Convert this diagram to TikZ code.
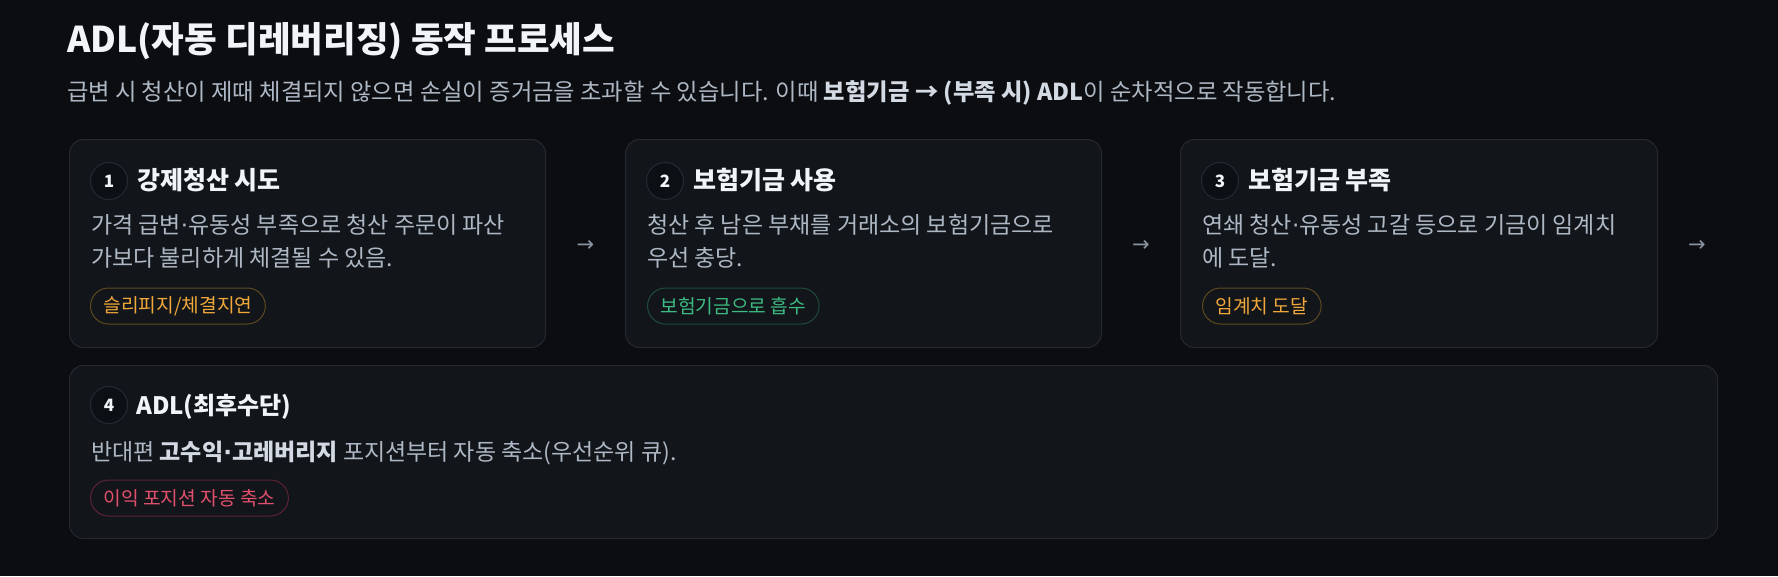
\documentclass[tikz,border=0pt]{standalone}
\usepackage{fontspec}
\setmainfont{Noto Sans CJK KR}
\newfontfamily\arrowfont{DejaVu Sans}
\newcommand{\kdot}{{\arrowfont ·}}
\usetikzlibrary{calc}
\definecolor{bgc}{HTML}{0B0D10}
\definecolor{cardfill}{HTML}{12151A}
\definecolor{cardline}{HTML}{242830}
\definecolor{numfill}{HTML}{0C0F14}
\definecolor{numline}{HTML}{252A33}
\definecolor{titlec}{HTML}{F2F5F8}
\definecolor{bodyc}{HTML}{AEB8C4}
\definecolor{boldc}{HTML}{D3DAE3}
\definecolor{arrowc}{HTML}{8A93A0}
\definecolor{ambert}{HTML}{F0A83A}
\definecolor{amberl}{HTML}{5E4A1E}
\definecolor{greent}{HTML}{3DBB82}
\definecolor{greenl}{HTML}{1F4D3A}
\definecolor{redt}{HTML}{E2506C}
\definecolor{redl}{HTML}{5C2433}
\begin{document}
\begin{tikzpicture}[x=1pt,y=-1pt,
  card/.style={draw=cardline, fill=cardfill, line width=1pt, rounded corners=14pt, anchor=north west, inner sep=0pt},
  num/.style={circle, draw=numline, fill=numfill, line width=1pt, minimum size=37pt, inner sep=0pt, font=\fontsize{17}{17}\selectfont\bfseries, text=titlec},
  ctitle/.style={anchor=base west, inner sep=0pt, font=\fontsize{25}{30}\selectfont\bfseries, text=titlec},
  body/.style={anchor=base west, inner sep=0pt, align=left, font=\fontsize{23}{33}\selectfont, text=bodyc},
  tag/.style={rounded corners=18pt, minimum height=36pt, inner xsep=13pt, inner ysep=0pt, line width=1pt, anchor=west, font=\fontsize{19.2}{19.2}\selectfont},
  ambertag/.style={tag, draw=amberl, text=ambert},
  greentag/.style={tag, draw=greenl, text=greent},
  redtag/.style={tag, draw=redl, text=redt},
  flow/.style={font=\arrowfont\fontsize{21}{21}\selectfont, text=arrowc, inner sep=0pt}
]
\fill[bgc] (0,0) rectangle (1778,576);
\useasboundingbox (0,0) rectangle (1778,576);

\node[anchor=base west, inner sep=0pt, font=\fontsize{35.5}{40}\selectfont\bfseries, text=titlec] (title) at (67,52) {ADL(자동 디레버리징) 동작 프로세스};
\node[anchor=base west, inner sep=0pt, font=\fontsize{23.3}{26}\selectfont, text=bodyc] (sub) at (67,100) {급변 시 청산이 제때 체결되지 않으면 손실이 증거금을 초과할 수 있습니다. 이때 \textcolor{boldc}{\bfseries 보험기금 → (부족 시) ADL}이 순차적으로 작동합니다.};

% cards
\node[card, minimum width=476pt, minimum height=208pt] (c1) at (69,139) {};
\node[card, minimum width=476pt, minimum height=208pt] (c2) at (625,139) {};
\node[card, minimum width=477pt, minimum height=208pt] (c3) at (1180,139) {};
\node[card, minimum width=1648pt, minimum height=173pt] (c4) at (69,365) {};

% card 1
\node[num] (n1) at (109,181) {1};
\node[ctitle] (t1) at (137,189) {강제청산 시도};
\node[body] (b1) at (91,266) {가격 급변\kdot 유동성 부족으로 청산 주문이 파산\\가보다 불리하게 체결될 수 있음.};
\node[ambertag] (g1) at (90,306) {슬리피지/체결지연};

% card 2
\node[num] (n2) at (665,181) {2};
\node[ctitle] (t2) at (693,189) {보험기금 사용};
\node[body] (b2) at (647,266) {청산 후 남은 부채를 거래소의 보험기금으로\\우선 충당.};
\node[greentag] (g2) at (647,306) {보험기금으로 흡수};

% card 3
\node[num] (n3) at (1220,181) {3};
\node[ctitle] (t3) at (1248,189) {보험기금 부족};
\node[body] (b3) at (1202,266) {연쇄 청산\kdot 유동성 고갈 등으로 기금이 임계치\\에 도달.};
\node[ambertag] (g3) at (1202,306) {임계치 도달};

% card 4
\node[num] (n4) at (109,405) {4};
\node[ctitle, font=\fontsize{24}{30}\selectfont\bfseries] (t4) at (136,414) {ADL(최후수단)};
\node[body] (b4) at (91,460) {반대편 \textcolor{boldc}{\bfseries 고수익\kdot 고레버리지} 포지션부터 자동 축소(우선순위 큐).};
\node[redtag] (g4) at (90,498) {이익 포지션 자동 축소};

% flow arrows
\node[flow] (a1) at ($(c1.east)!0.5!(c2.west)+(0,2)$) {→};
\node[flow] (a2) at ($(c2.east)!0.5!(c3.west)+(0,2)$) {→};
\node[flow] (a3) at ($(c3.east)+(39,2)$) {→};
\end{tikzpicture}
\end{document}
